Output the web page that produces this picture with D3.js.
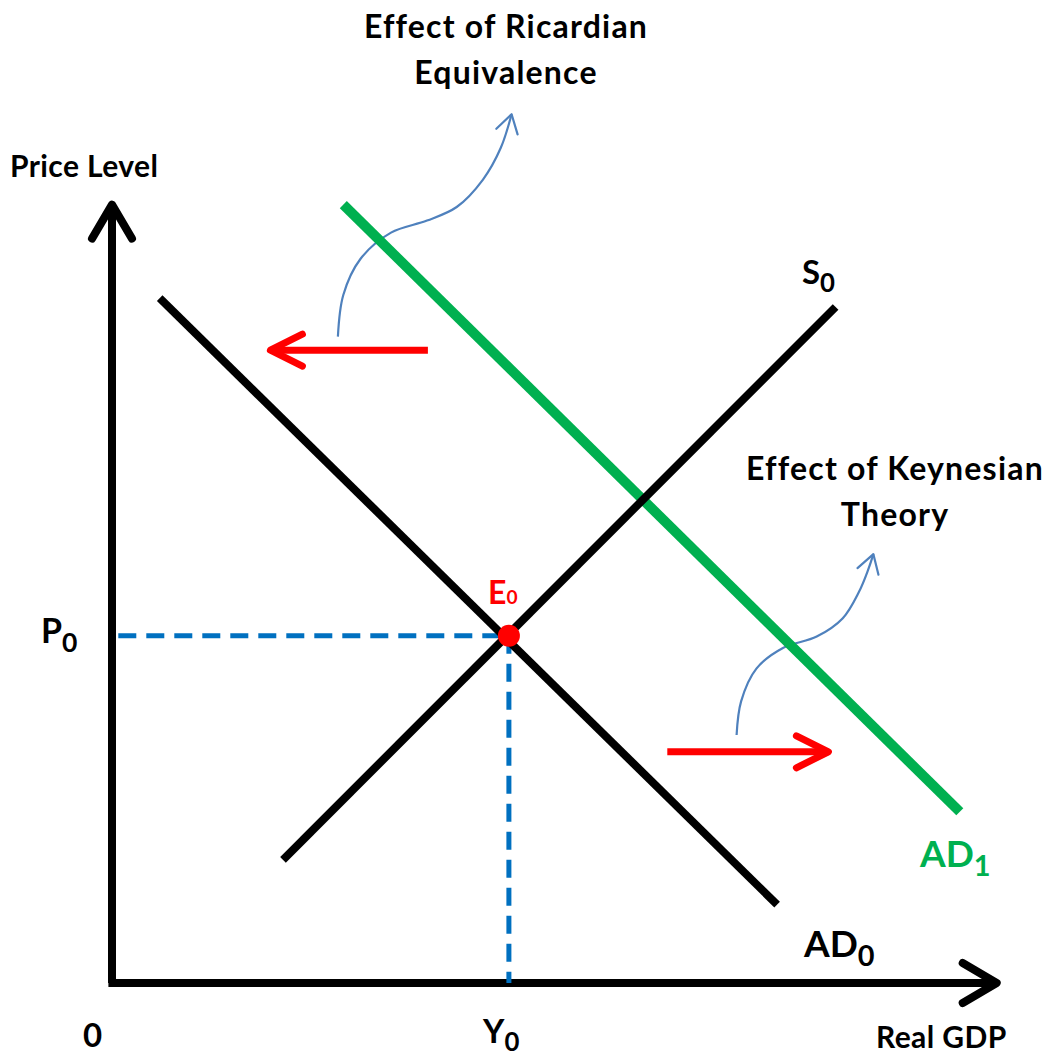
<!DOCTYPE html>
<html>
<head>
<meta charset="utf-8">
<script src="https://cdn.jsdelivr.net/npm/d3@7"></script>
<style>
  body { margin: 0; background: #fff; }
  svg text { font-family: Lato, "Open Sans", sans-serif; font-weight: bold; }
</style>
</head>
<body>
<div id="chart"></div>
<script>
  // curves (real GDP units, price level units)
  const ad0 = [[5.3, 85.6], [73.9, 9.8]];
  const s0 = [[19.0, 15.4], [80.4, 84.5]];
  const ad1 = [[25.7, 97.3], [94.2, 21.4]];
  const equilibrium = [44.1, 43.4];

  // shift arrows
  const leftShift = [[35.1, 79.1], [17.6, 79.1]];
  const rightShift = [[61.7, 28.9], [79.6, 28.9]];

  // annotation pointers
  const ricardianPointer = [[25.1, 80.8], [25.7, 86.0], [27.6, 90.5], [31.0, 93.8],
    [35.0, 95.3], [38.3, 97.0], [41.2, 100.4], [43.2, 104.4], [44.4, 108.6]];
  const keynesPointer = [[69.4, 31.0], [69.9, 35.2], [71.6, 39.3], [74.6, 41.9],
    [78.3, 43.3], [81.2, 45.6], [83.0, 48.9], [84.0, 51.6], [84.6, 53.6]];

  const axisMax = [98.3, 97.3];

  const width = 1048, height = 1056;
  const svg = d3.select("#chart").append("svg")
    .attr("width", width)
    .attr("height", height);

  const x = d3.scaleLinear().domain([0, 100]).range([112, 1012]);
  const y = d3.scaleLinear().domain([0, 100]).range([983, 183]);

  const line = d3.line().x(d => x(d[0])).y(d => y(d[1]));
  const curve = d3.line().x(d => x(d[0])).y(d => y(d[1])).curve(d3.curveCatmullRom.alpha(0.5));

  // open chevron arrowheads
  const defs = svg.append("defs");
  function marker(id, color, len, half, sw) {
    defs.append("marker")
      .attr("id", id)
      .attr("markerUnits", "userSpaceOnUse")
      .attr("orient", "auto")
      .attr("viewBox", (-len - sw) + " " + (-half - sw) + " " + (len + 2 * sw) + " " + (2 * half + 2 * sw))
      .attr("markerWidth", len + 2 * sw)
      .attr("markerHeight", 2 * half + 2 * sw)
      .attr("refX", 0)
      .attr("refY", 0)
      .append("path")
      .attr("d", "M" + (-len) + "," + (-half) + "L0,0L" + (-len) + "," + half)
      .attr("fill", "none")
      .attr("stroke", color)
      .attr("stroke-width", sw)
      .attr("stroke-linecap", "round")
      .attr("stroke-linejoin", "round");
  }
  marker("arrowAxis", "#000", 34, 20, 8);
  marker("arrowRed", "#ff0000", 32, 16, 7);
  marker("arrowBlue", "#4f81bd", 18, 11, 2.2);

  // axes
  svg.append("path")
    .attr("d", line([[0, 0], [0, axisMax[1]]]))
    .attr("stroke", "#000").attr("stroke-width", 8).attr("fill", "none")
    .attr("marker-end", "url(#arrowAxis)");
  svg.append("path")
    .attr("d", line([[-0.4, 0], [axisMax[0], 0]]))
    .attr("stroke", "#000").attr("stroke-width", 8).attr("fill", "none")
    .attr("marker-end", "url(#arrowAxis)");

  // guide lines to the equilibrium
  const dash = { stroke: "#0070c0", w: 5, d: "18,10" };
  svg.append("path")
    .attr("d", line([[0.7, equilibrium[1]], equilibrium]))
    .attr("stroke", dash.stroke).attr("stroke-width", dash.w)
    .attr("stroke-dasharray", dash.d).attr("fill", "none");
  svg.append("path")
    .attr("d", line([equilibrium, [equilibrium[0], 0]]))
    .attr("stroke", dash.stroke).attr("stroke-width", dash.w)
    .attr("stroke-dasharray", dash.d).attr("fill", "none");

  // pointers behind curves
  svg.append("path")
    .attr("d", curve(ricardianPointer))
    .attr("stroke", "#4f81bd").attr("stroke-width", 2.2).attr("fill", "none")
    .attr("marker-end", "url(#arrowBlue)");
  svg.append("path")
    .attr("d", curve(keynesPointer))
    .attr("stroke", "#4f81bd").attr("stroke-width", 2.2).attr("fill", "none")
    .attr("marker-end", "url(#arrowBlue)");

  // AD1, AD0, S0
  svg.append("path")
    .attr("d", line(ad1))
    .attr("stroke", "#00b050").attr("stroke-width", 10).attr("fill", "none");
  svg.append("path")
    .attr("d", line(ad0))
    .attr("stroke", "#000").attr("stroke-width", 8).attr("fill", "none");
  svg.append("path")
    .attr("d", line(s0))
    .attr("stroke", "#000").attr("stroke-width", 8).attr("fill", "none");

  // shift arrows
  svg.append("path")
    .attr("d", line(leftShift))
    .attr("stroke", "#ff0000").attr("stroke-width", 7).attr("fill", "none")
    .attr("marker-end", "url(#arrowRed)");
  svg.append("path")
    .attr("d", line(rightShift))
    .attr("stroke", "#ff0000").attr("stroke-width", 7).attr("fill", "none")
    .attr("marker-end", "url(#arrowRed)");

  svg.append("circle")
    .attr("cx", x(equilibrium[0]))
    .attr("cy", y(equilibrium[1]))
    .attr("r", 11)
    .attr("fill", "#ff0000");

  // labels
  function label(txt, sub, px, py, size, color, anchor, opts) {
    const o = opts || {};
    const t = svg.append("text")
      .attr("x", px).attr("y", py)
      .attr("font-size", size)
      .attr("fill", color || "#000")
      .attr("text-anchor", anchor || "start")
      .attr("letter-spacing", o.ls || 0);
    t.append("tspan").text(txt);
    if (sub) {
      t.append("tspan")
        .attr("dy", o.subDy != null ? o.subDy : size * 0.25)
        .attr("font-size", size * (o.subScale || 0.78))
        .text(sub);
    }
    return t;
  }

  label("Price Level", null, 10, 177, 30, "#000", "start", { ls: 0.4 });
  label("Real GDP", null, 876, 1048, 30, "#000", "start", { ls: 0.4 });
  label("0", null, 83, 1047, 33);
  label("P", "0", 41, 643, 34);
  label("Y", "0", 483, 1043, 33);
  label("S", "0", 802, 284, 33);
  label("AD", "0", 804, 957, 37);
  label("AD", "1", 920, 867, 37, "#00b050");
  label("E", "0", 488, 604, 32, "#ff0000", "start", { subDy: 0, subScale: 0.6 });

  const note = { ls: 1.2 };
  label("Effect of Ricardian", null, 506, 38, 32, "#000", "middle", note);
  label("Equivalence", null, 506, 84, 32, "#000", "middle", note);
  label("Effect of Keynesian", null, 895, 480, 32, "#000", "middle", note);
  label("Theory", null, 895, 526, 32, "#000", "middle", note);
</script>
</body>
</html>
